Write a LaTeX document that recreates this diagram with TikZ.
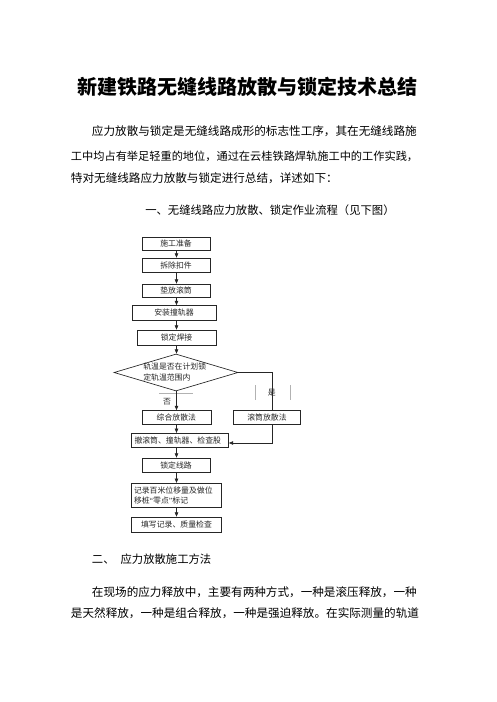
\documentclass[tikz,border=0pt]{standalone}
\usepackage{fontspec}
\setmainfont{Noto Sans CJK SC}
\newfontfamily\latinq{Liberation Serif}
\usetikzlibrary{shapes.geometric,arrows.meta}
\tikzset{
  body/.style={anchor=west,inner sep=0pt,font=\fontsize{8.7pt}{10pt}\selectfont},
  fbox/.style={draw=black!85,line width=0.5pt,inner sep=0pt,font=\fontsize{5.9pt}{7.4pt}\selectfont,text=black!85},
  farrow/.style={draw=black!85,line width=0.5pt,-{Triangle[length=3.2pt,width=2.6pt]}},
  fline/.style={draw=black!85,line width=0.5pt},
  lblline/.style={draw=black!30,line width=0.4pt},
}
\begin{document}
\begin{tikzpicture}[x=0.75pt,y=-0.75pt]
\useasboundingbox (0,0) rectangle (496,702);
% title and text
\node[anchor=center,inner sep=0pt,font=\fontsize{15pt}{17pt}\selectfont\bfseries] (title) at (247.5,86.7) {新建铁路无缝线路放散与锁定技术总结};
\node[body] (p1) at (91.7,131.7) {应力放散与锁定是无缝线路成形的标志性工序，其在无缝线路施};
\node[body,font=\fontsize{8.4pt}{10pt}\selectfont] (p2) at (70.7,156.7) {工中均占有举足轻重的地位，通过在云桂铁路焊轨施工中的工作实践，};
\node[body] (p3) at (70.7,178.3) {特对无缝线路应力放散与锁定进行总结，详述如下：};
\node[body,font=\fontsize{8.5pt}{10pt}\selectfont] (h1) at (145,210) {一、无缝线路应力放散、锁定作业流程（见下图）};
\node[body,font=\fontsize{8.5pt}{10pt}\selectfont] (h2) at (91.7,559) {二、\hspace{4.5pt}应力放散施工方法};
\node[body] (p4) at (91.7,591.7) {在现场的应力释放中，主要有两种方式，一种是滚压释放，一种};
\node[body] (p5) at (70.7,613.3) {是天然释放，一种是组合释放，一种是强迫释放。在实际测量的轨道};
% flowchart boxes
\node[fbox,minimum width=68*0.75pt,minimum height=13*0.75pt] (b1) at (176,243.5) {施工准备};
\node[fbox,minimum width=68*0.75pt,minimum height=14*0.75pt] (b2) at (176,265) {拆除扣件};
\node[fbox,minimum width=68*0.75pt,minimum height=13*0.75pt] (b3) at (176,290.5) {垫放滚筒};
\node[fbox,minimum width=84*0.75pt,minimum height=15*0.75pt] (b4) at (174,313) {安装撞轨器};
\node[fbox,minimum width=79*0.75pt,minimum height=15*0.75pt] (b5) at (176.5,337.5) {锁定焊接};
\node[fbox,diamond,minimum width=124*0.75pt,minimum height=37*0.75pt,aspect=3.35] (d) at (176,372.5) {};
\node[anchor=west,inner sep=0pt,align=left,font=\fontsize{5.9pt}{7.6pt}\selectfont,text=black!85] (dt) at (143,372) {轨温是否在计划锁\\定轨温范围内};
\node[fbox,minimum width=69*0.75pt,minimum height=14*0.75pt] (b6) at (176.4,417.5) {综合放散法};
\node[fbox,minimum width=67*0.75pt,minimum height=14*0.75pt] (b7) at (267,417.5) {滚筒放散法};
\node[fbox,minimum width=97*0.75pt,minimum height=14.5*0.75pt,text width=91*0.75pt,align=left] (b8) at (180,440.5) {撤滚筒、撞轨器、检查股};
\node[fbox,minimum width=68*0.75pt,minimum height=14*0.75pt] (b9) at (176,465) {锁定线路};
\node[fbox,minimum width=90*0.75pt,minimum height=24*0.75pt,text width=84*0.75pt,align=left] (b10) at (176,495.2) {记录百米位移量及做位\\移桩{\latinq“}零点{\latinq”}标记};
\node[fbox,minimum width=90*0.75pt,minimum height=15*0.75pt] (b11) at (176.5,524.5) {填写记录、质量检查};
% labels
\node[inner sep=0pt,font=\fontsize{5.9pt}{7pt}\selectfont,text=black!85] (no) at (167,401.5) {否};
\node[inner sep=0pt,font=\fontsize{5.9pt}{7pt}\selectfont,text=black!85] (yes) at (271.7,393) {是};
\draw[lblline] (159,393.5) -- (192.5,393.5);
\draw[lblline] (255.7,385) -- (255.7,400);
\draw[lblline] (290,385) -- (290,400);
% connectors
\coordinate (sp) at (176.5,0);
\draw[farrow] (b1.south -| sp) -- (b2.north -| sp);
\draw[farrow] (b2.south -| sp) -- (b3.north -| sp);
\draw[farrow] (b3.south -| sp) -- (b4.north -| sp);
\draw[farrow] (b4.south -| sp) -- (b5.north -| sp);
\draw[farrow] (b5.south -| sp) -- (d.north -| sp);
\draw[farrow] (d.south -| sp) -- (b6.north -| sp);
\draw[farrow] (b6.south -| sp) -- (b8.north -| sp);
\draw[farrow] (b8.south -| sp) -- (b9.north -| sp);
\draw[farrow] (b9.south -| sp) -- (b10.north -| sp);
\draw[farrow] (b10.south -| sp) -- (b11.north -| sp);
\coordinate (rj) at (272,372.5);
\coordinate (rk) at (272,443);
\draw[fline] (d.east) -- (rj) -- (rj |- b7.north);
\draw[farrow] (rj |- b7.south) -- (rk) -- (rk -| b8.east);
\end{tikzpicture}
\end{document}
